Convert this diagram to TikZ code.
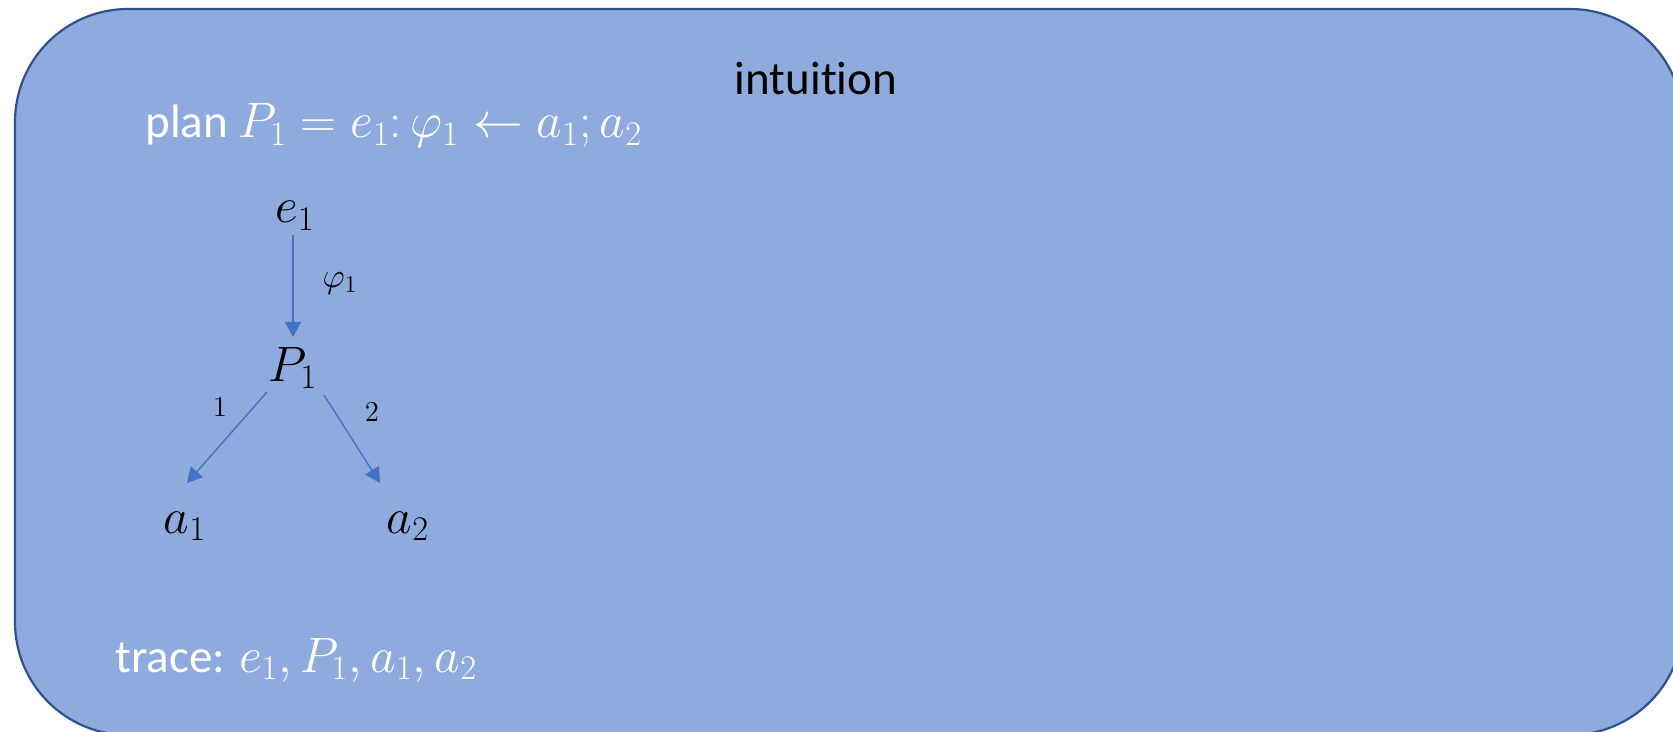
\documentclass[tikz,border=0pt]{standalone}
\usepackage[no-math]{fontspec}
\setmainfont{Carlito}[Ligatures=NoCommon]
\usetikzlibrary{arrows.meta,calc}
\definecolor{fillblue}{HTML}{8FAADC}
\definecolor{edgeblue}{HTML}{2F528F}
\definecolor{arrowblue}{HTML}{4472C4}
\newcommand\mathat[2]{{\fontsize{#1}{#1}\selectfont$#2$}}
\begin{document}
\begin{tikzpicture}[x=0.5pt,y=-0.5pt,
  frame/.style={draw=edgeblue,fill=fillblue,line width=1.1pt,rounded corners=56.5pt},
  whitetxt/.style={text=white,inner sep=0pt,font=\fontsize{23.5}{28}\selectfont},
  mathnode/.style={text=black,inner sep=0pt,font=\fontsize{26}{30}\selectfont},
  lbl/.style={text=black,inner sep=0pt,font=\fontsize{15}{18}\selectfont},
  arr/.style={draw=arrowblue,line width=0.7pt,-{Triangle[length=7.5pt,width=8pt]}}]
\useasboundingbox (0,0) rectangle (1673,732);
\begin{scope}
\clip (0,0) rectangle (1673,732);
\path[frame] (15,9) rectangle (1683,735);
\end{scope}
\node[inner sep=0pt,anchor=base,font=\fontsize{23.5}{28}\selectfont] (title) at (816,95) {intuition};
\node[whitetxt,anchor=base west] (plan) at (145,138) {plan \mathat{24.8}{P_1 = e_1\colon\varphi_1 \leftarrow a_1; a_2}};
\node[whitetxt,anchor=base west] (trace) at (115,672) {trace: \mathat{25.3}{e_1, P_1, a_1, a_2}};
\node[mathnode,anchor=base] (e1) at (295,223) {$e_1$};
\node[mathnode,anchor=base] (P1) at (293,381) {$P_1$};
\node[mathnode,anchor=base] (a1) at (185,533) {$a_1$};
\node[mathnode,anchor=base] (a2) at (408,533) {$a_2$};
\node[lbl,font=\fontsize{18}{20}\selectfont] (phi) at (340,283) {$\varphi_1$};
\node[lbl] (l1) at (220,407) {$1$};
\node[lbl] (l2) at (372,412) {$2$};
\draw[arr] ($(e1.base)+(-2,12)$) -- ($(P1.base)+(0,-44)$);
\draw[arr] ($(P1.base)+(-26,11)$) -- ($(a1.base)+(2,-50)$);
\draw[arr] ($(P1.base)+(31,14)$) -- ($(a2.base)+(-28,-50)$);
\end{tikzpicture}
\end{document}
